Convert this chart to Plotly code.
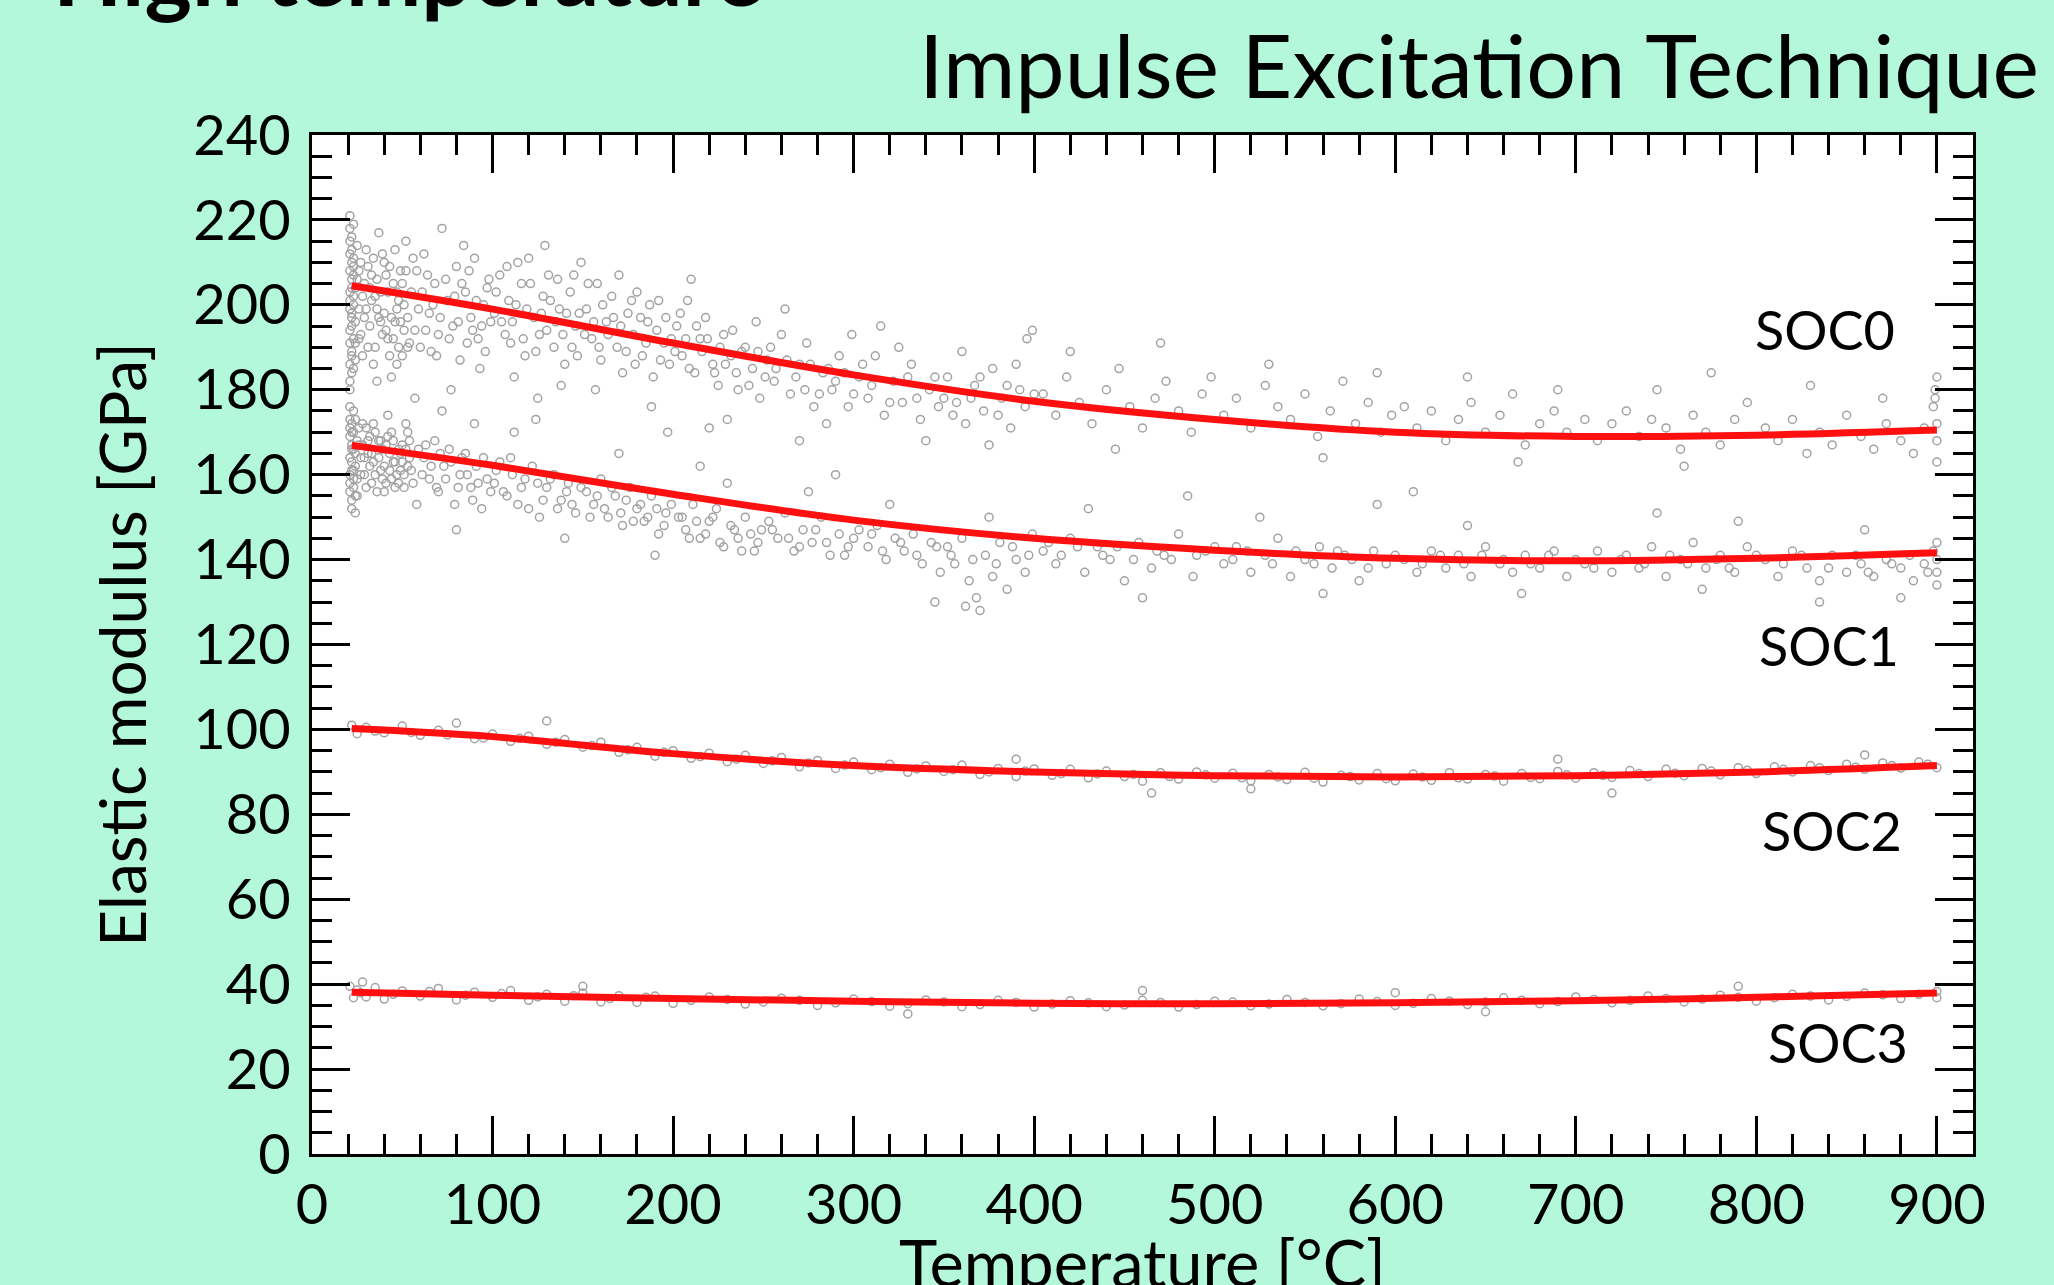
import plotly.graph_objects as go

soc0_points = [
    (21, 221), (22, 216), (21, 212), (23, 209), (22, 206), (21, 203), (23, 200), (22, 197), (21, 194), (24, 191),
    (22, 188), (23, 185), (21, 182), (25, 214), (26, 199), (24, 196),
    (30, 213), (33, 207), (35, 202), (38, 196), (40, 210), (42, 192), (45, 205), (47, 199), (50, 188), (52, 215),
    (55, 203), (57, 194), (58, 208), (34, 186), (44, 183), (53, 197), (37, 217), (48, 201), (60, 190),
    (62, 212), (65, 198), (68, 205), (70, 193), (72, 218), (75, 201), (78, 195), (80, 209), (82, 187), (85, 203),
    (88, 197), (90, 211), (92, 192), (95, 200), (98, 206), (66, 189), (84, 214), (93, 185), (77, 180), (99, 196),
    (102, 203), (105, 196), (108, 209), (110, 191), (113, 200), (116, 205), (118, 188), (120, 211), (123, 197),
    (126, 193), (128, 202), (131, 207), (134, 190), (137, 199), (140, 186), (143, 203), (146, 195), (149, 210),
    (112, 183), (138, 181), (125, 178), (129, 214), (147, 188),
    (152, 199), (155, 192), (158, 205), (160, 187), (163, 196), (166, 202), (169, 190), (172, 184), (175, 198),
    (178, 193), (180, 203), (183, 188), (186, 196), (189, 183), (192, 201), (195, 191), (198, 186), (170, 207),
    (188, 176), (157, 180), (197, 170),
    (202, 195), (205, 188), (208, 201), (212, 184), (215, 192), (218, 197), (222, 186), (225, 181), (228, 193),
    (232, 188), (236, 180), (240, 190), (244, 185), (248, 178), (210, 206), (230, 173), (246, 196), (220, 171),
    (252, 187), (256, 182), (260, 193), (265, 179), (270, 186), (274, 191), (278, 176), (283, 184), (288, 180),
    (292, 188), (297, 176), (262, 199), (285, 172), (299, 193), (270, 168),
    (303, 183), (308, 178), (312, 188), (317, 174), (322, 182), (327, 177), (332, 186), (337, 173), (342, 180),
    (347, 176), (315, 195), (340, 168), (325, 190),
    (352, 183), (357, 177), (362, 172), (367, 181), (372, 175), (377, 185), (382, 178), (387, 171), (392, 180),
    (396, 192), (399, 194), (390, 186), (375, 167), (360, 189),
    (405, 179), (412, 174), (418, 183), (425, 177), (432, 172), (440, 180), (447, 185), (453, 176), (460, 171),
    (467, 178), (473, 182), (480, 175), (487, 170), (493, 179), (420, 189), (445, 166), (470, 191), (498, 183),
    (505, 174), (512, 178), (520, 171), (528, 181), (535, 176), (542, 173), (550, 179), (557, 169), (564, 175),
    (571, 182), (578, 172), (585, 177), (592, 170), (598, 174), (530, 186), (560, 164), (590, 184),
    (605, 176), (612, 171), (620, 175), (628, 168), (635, 173), (642, 177), (650, 170), (658, 174), (665, 179),
    (672, 167), (680, 172), (688, 175), (695, 170), (640, 183), (668, 163), (690, 180),
    (705, 173), (712, 168), (720, 172), (728, 175), (735, 169), (742, 173), (750, 171), (758, 166), (765, 174),
    (772, 170), (780, 167), (788, 173), (795, 177), (745, 180), (775, 184), (760, 162),
    (805, 171), (812, 168), (820, 173), (828, 165), (835, 170), (842, 167), (850, 174), (858, 169), (865, 166),
    (872, 172), (880, 168), (887, 165), (893, 171), (898, 176), (899, 180), (900, 168), (900, 163), (900, 172),
    (900, 183), (899, 178), (830, 181), (870, 178),
    # denser part of the cloud below 400 degC
    (21, 218), (22, 210), (23, 207), (21, 201), (22, 198), (23, 192), (22, 189), (21, 186), (24, 204), (23, 211),
    (26, 208), (27, 193), (28, 202), (29, 197), (31, 190), (32, 204), (36, 199), (39, 193), (41, 207), (43, 188),
    (46, 196), (49, 208), (51, 200), (54, 191), (56, 211), (59, 199), (61, 203), (63, 194), (64, 207), (67, 200),
    (69, 188), (71, 197), (74, 206), (76, 192), (79, 202), (81, 196), (83, 205), (86, 191), (87, 208), (89, 194),
    (91, 201), (94, 195), (96, 189), (97, 204), (101, 198), (104, 207), (107, 193), (109, 201), (111, 196),
    (114, 210), (117, 192), (119, 199), (121, 205), (124, 189), (127, 198), (130, 194), (132, 201), (135, 196),
    (136, 206), (139, 193), (141, 198), (144, 190), (145, 207), (148, 198), (151, 193), (153, 205), (156, 196),
    (159, 190), (161, 200), (164, 193), (167, 197), (171, 195), (174, 189), (177, 201), (179, 186), (182, 197),
    (185, 191), (187, 200), (191, 194), (193, 187), (196, 197), (199, 192), (201, 189), (204, 198), (207, 192),
    (209, 185), (213, 195), (216, 189), (219, 192), (223, 184), (226, 190), (229, 186), (233, 194), (235, 184),
    (238, 189), (242, 181), (247, 189), (251, 183), (254, 190), (257, 185), (263, 187), (268, 183), (273, 180),
    (276, 186), (281, 179), (286, 185), (290, 182), (295, 184), (300, 179), (305, 186), (310, 181), (320, 177),
    (330, 183), (335, 178), (345, 183), (350, 178), (355, 174), (365, 178), (370, 183), (380, 174), (385, 181),
    (395, 176), (400, 179),
    # solid column right at the start of the run
    (21, 215), (22, 213), (21, 208), (22, 204), (21, 199), (22, 195), (21, 191), (22, 184), (23, 219), (23, 202),
    (24, 187), (25, 206), (26, 192), (27, 210), (28, 188), (29, 205), (30, 199), (31, 209), (32, 195), (33, 201),
    (34, 211), (35, 190), (36, 206), (37, 197), (38, 203), (39, 212), (40, 198), (41, 194), (42, 203), (43, 209),
    (44, 197), (45, 192), (46, 213), (47, 203), (48, 190), (49, 196), (50, 205), (51, 194), (52, 208), (53, 190),
]

soc1_points = [
    (21, 176), (22, 172), (21, 169), (23, 166), (22, 163), (21, 160), (23, 157), (22, 154), (24, 151), (21, 180),
    (25, 168), (24, 162),
    (30, 171), (33, 165), (35, 160), (38, 168), (40, 156), (42, 174), (45, 163), (48, 158), (50, 167), (53, 170),
    (55, 161), (58, 153), (36, 182), (47, 186), (57, 178),
    (62, 164), (65, 159), (68, 168), (70, 156), (73, 162), (76, 166), (79, 153), (82, 160), (85, 165), (88, 157),
    (91, 162), (94, 152), (97, 159), (72, 175), (90, 172), (80, 147),
    (102, 161), (106, 156), (110, 164), (114, 153), (118, 159), (122, 162), (126, 150), (130, 157), (134, 160),
    (138, 154), (142, 158), (146, 151), (112, 170), (140, 145), (124, 173),
    (152, 156), (156, 153), (160, 159), (164, 150), (168, 155), (172, 148), (176, 157), (180, 152), (184, 149),
    (188, 155), (192, 146), (196, 151), (170, 165), (190, 141),
    (203, 150), (207, 147), (211, 153), (215, 145), (220, 149), (224, 152), (228, 143), (232, 148), (236, 145),
    (240, 150), (245, 142), (249, 147), (230, 158), (215, 162),
    (253, 149), (258, 145), (262, 151), (267, 142), (272, 147), (277, 144), (282, 150), (287, 141), (292, 146),
    (297, 143), (275, 156), (290, 160),
    (303, 147), (308, 143), (313, 148), (318, 140), (323, 145), (328, 142), (333, 146), (338, 139), (343, 144),
    (348, 137), (320, 153), (345, 130),
    (352, 143), (356, 139), (360, 145), (364, 135), (368, 131), (370, 128), (373, 141), (377, 136), (381, 144),
    (385, 133), (390, 140), (395, 137), (399, 146), (375, 150), (362, 129),
    (405, 142), (412, 139), (420, 145), (428, 137), (435, 143), (442, 140), (450, 135), (458, 144), (465, 138),
    (472, 141), (480, 146), (488, 136), (495, 142), (430, 152), (460, 131), (485, 155),
    (505, 139), (512, 143), (520, 137), (528, 141), (535, 145), (542, 136), (550, 140), (558, 143), (565, 138),
    (572, 141), (580, 135), (588, 142), (595, 139), (525, 150), (560, 132), (590, 153),
    (605, 140), (612, 137), (620, 142), (628, 138), (635, 141), (642, 136), (650, 143), (658, 139), (665, 137),
    (672, 141), (680, 138), (688, 142), (695, 136), (640, 148), (670, 132), (610, 156),
    (705, 139), (712, 142), (720, 137), (728, 141), (735, 138), (742, 143), (750, 136), (758, 140), (765, 144),
    (772, 138), (780, 141), (788, 137), (795, 143), (745, 151), (770, 133), (790, 149),
    (805, 140), (812, 136), (820, 142), (828, 138), (835, 135), (842, 141), (850, 137), (858, 139), (865, 136),
    (872, 140), (880, 138), (887, 135), (893, 139), (898, 142), (900, 134), (900, 137), (900, 140), (900, 144),
    (860, 147), (835, 130), (880, 131),
    # denser band close to the fit
    (21, 173), (22, 166), (23, 161), (21, 158), (22, 170), (24, 155), (23, 175), (25, 159), (26, 171), (27, 164),
    (28, 167), (29, 160), (31, 168), (32, 162), (34, 172), (37, 164), (39, 159), (41, 167), (43, 161), (44, 170),
    (46, 157), (49, 165), (51, 160), (52, 172), (54, 164), (56, 158), (59, 166), (61, 160), (63, 167), (66, 162),
    (69, 157), (71, 165), (74, 159), (77, 163), (81, 157), (83, 164), (86, 160), (89, 154), (92, 158), (95, 164),
    (99, 156), (101, 158), (104, 163), (108, 155), (111, 160), (116, 157), (120, 152), (125, 158), (128, 154),
    (132, 159), (136, 152), (141, 156), (144, 153), (149, 157), (154, 150), (158, 155), (162, 152), (166, 157),
    (171, 151), (174, 154), (178, 149), (182, 153), (186, 150), (191, 152), (195, 148), (199, 153), (205, 150),
    (209, 145), (213, 149), (218, 146), (222, 150), (226, 144), (234, 147), (238, 142), (243, 146), (247, 144),
    (255, 147), (264, 145), (270, 143), (279, 147), (285, 144), (295, 141), (300, 145), (310, 146), (316, 142),
    (326, 144), (335, 141), (346, 143), (354, 141), (366, 140), (379, 139), (388, 143), (397, 141), (408, 144),
    (415, 141), (424, 143), (438, 141), (446, 143), (455, 140), (468, 142), (476, 140), (490, 141), (500, 143),
    (510, 140), (518, 142), (532, 139), (545, 142), (555, 139), (568, 142), (576, 140), (585, 138), (600, 141),
    (615, 139), (625, 141), (638, 139), (648, 141), (660, 140), (675, 139), (685, 141), (700, 140), (710, 138),
    (725, 140), (738, 139), (752, 141), (762, 139), (778, 140), (785, 138), (800, 141), (815, 139), (825, 141),
    (840, 138), (855, 141), (862, 137), (875, 139), (885, 141), (895, 137),
    # solid column right at the start of the run
    (21, 171), (22, 167), (21, 164), (22, 161), (21, 156), (22, 152), (23, 170), (23, 159), (24, 173), (24, 165),
    (25, 155), (26, 167), (27, 160), (28, 172), (29, 164), (30, 157), (31, 165), (32, 169), (33, 158), (34, 163),
    (35, 170), (36, 156), (37, 168), (38, 161), (39, 166), (40, 162), (41, 158), (42, 169), (43, 165), (44, 159),
    (45, 168), (46, 163), (47, 160), (48, 166), (49, 161), (50, 163), (51, 157), (52, 166), (53, 162), (54, 168),
]

soc2_points = [
    (22, 101), (25, 99), (30, 100.5), (40, 99.2), (50, 100.8), (60, 98.6), (70, 99.8), (80, 101.5), (90, 97.8),
    (100, 98.9), (110, 97.2), (120, 98.4), (130, 96.5), (140, 97.6), (150, 95.8), (160, 97.0), (170, 94.6),
    (180, 95.8), (190, 93.7), (200, 95.0), (210, 93.2), (220, 94.4), (230, 92.4), (240, 93.9), (250, 92.0),
    (260, 93.4), (270, 91.2), (280, 92.7), (290, 90.8), (300, 92.3), (310, 90.5), (320, 91.8), (330, 89.9),
    (340, 91.4), (350, 90.1), (360, 91.6), (370, 89.4), (380, 90.8), (390, 88.9), (400, 90.7), (410, 89.2),
    (420, 90.6), (430, 88.6), (440, 90.2), (450, 88.9), (460, 87.8), (470, 89.8), (480, 88.3), (490, 90.0),
    (500, 88.5), (510, 89.7), (520, 87.9), (530, 89.4), (540, 88.2), (550, 89.9), (560, 87.6), (570, 89.2),
    (580, 88.1), (590, 89.6), (600, 87.9), (610, 89.5), (620, 88.0), (630, 89.8), (640, 88.3), (650, 89.4),
    (660, 87.8), (670, 89.6), (680, 88.4), (690, 90.1), (700, 88.5), (710, 89.8), (720, 88.7), (730, 90.3),
    (740, 88.9), (750, 90.6), (760, 89.1), (770, 90.8), (780, 89.3), (790, 91.0), (800, 89.6), (810, 91.2),
    (820, 90.0), (830, 91.5), (840, 90.3), (850, 91.8), (860, 90.6), (870, 92.1), (880, 90.9), (890, 92.3),
    (900, 91.0), (130, 102), (390, 93), (465, 85), (520, 86), (690, 93), (720, 85), (860, 94),
    (35, 99.6), (55, 99.3), (75, 98.7), (95, 98.0), (115, 97.9), (135, 97.0), (155, 96.2), (175, 95.2),
    (195, 94.6), (215, 93.6), (235, 93.0), (255, 92.6), (275, 92.1), (295, 91.6), (315, 91.0), (335, 90.7),
    (355, 90.5), (375, 90.0), (395, 90.2), (415, 89.6), (435, 89.5), (455, 89.4), (475, 88.9), (495, 89.3),
    (515, 88.6), (535, 88.8), (555, 88.5), (575, 88.9), (595, 88.4), (615, 88.8), (635, 88.6), (655, 89.0),
    (675, 88.7), (695, 89.3), (715, 89.2), (735, 89.6), (755, 89.7), (775, 90.2), (795, 90.4), (815, 90.6),
    (835, 91.0), (855, 91.1), (875, 91.5), (895, 91.8),
]

soc3_points = [
    (21, 39.5), (23, 36.8), (25, 38.6), (30, 37.0), (35, 39.2), (40, 36.5), (50, 38.4), (60, 37.2), (70, 39.0),
    (80, 36.3), (90, 38.1), (100, 36.9), (110, 38.5), (120, 36.2), (130, 37.6), (140, 36.0), (150, 37.9),
    (160, 35.8), (170, 37.3), (180, 35.7), (190, 37.2), (200, 35.5), (220, 37.0), (240, 35.3), (260, 36.7),
    (280, 35.0), (300, 36.5), (320, 34.8), (340, 36.3), (360, 34.7), (380, 36.2), (400, 34.6), (420, 36.1),
    (440, 34.7), (460, 36.2), (480, 34.6), (500, 36.0), (520, 34.9), (540, 36.4), (560, 34.9), (580, 36.5),
    (600, 35.0), (620, 36.6), (640, 35.2), (660, 36.8), (680, 35.4), (700, 37.0), (720, 35.6), (740, 37.2),
    (760, 35.8), (780, 37.4), (800, 36.0), (820, 37.6), (840, 36.3), (860, 37.9), (880, 36.6), (900, 38.3),
    (900, 36.8), (28, 40.5), (150, 39.5), (460, 38.5), (600, 38), (790, 39.5), (330, 33), (650, 33.5),
    (27, 38.0), (45, 37.6), (65, 38.3), (85, 37.4), (105, 37.8), (125, 37.0), (145, 37.3), (165, 36.6),
    (185, 36.9), (210, 36.2), (230, 36.4), (250, 35.8), (270, 36.2), (290, 35.6), (310, 35.9), (330, 35.4),
    (350, 35.8), (370, 35.2), (390, 35.7), (410, 35.3), (430, 35.6), (450, 35.1), (470, 35.7), (490, 35.2),
    (510, 35.8), (530, 35.3), (550, 35.7), (570, 35.4), (590, 35.9), (610, 35.5), (630, 36.0), (650, 35.8),
    (670, 36.2), (690, 35.9), (710, 36.4), (730, 36.2), (750, 36.6), (770, 36.5), (790, 36.9), (810, 36.8),
    (830, 37.2), (850, 37.1), (870, 37.5), (890, 37.6),
]

# fitted curves
fit_temp = [22, 100, 200, 300, 400, 500, 600, 700, 800, 900]
fit_soc0 = [204.5, 199, 191, 183.5, 177.3, 173, 170, 169, 169.3, 170.5]
fit_soc1 = [166.9, 162.2, 155.4, 149.3, 145.0, 142.2, 140.3, 139.7, 140.3, 141.6]
fit_soc2 = [100.2, 98.3, 94.3, 91.5, 90.0, 89.1, 88.8, 89.1, 90.0, 91.5]
fit_soc3 = [38.1, 37.4, 36.6, 36.0, 35.5, 35.4, 35.6, 36.1, 36.9, 37.9]

# series labels
labels = ["SOC0", "SOC1", "SOC2", "SOC3"]
label_x = [878, 880, 882, 885]
label_y = [194.3, 119.7, 76.2, 26.2]

FONT = "Lato"
BG = "#b4f8dc"

fig = go.Figure()

# gray open circles for the raw data
for pts in [soc0_points, soc1_points, soc2_points, soc3_points]:
    fig.add_trace(go.Scatter(
        x=[p[0] for p in pts], y=[p[1] for p in pts], mode="markers",
        marker=dict(symbol="circle-open", size=8, color="#a3a3a3", line=dict(width=1.5)),
        showlegend=False, hoverinfo="skip"))

# red fit lines
for fit in [fit_soc0, fit_soc1, fit_soc2, fit_soc3]:
    fig.add_trace(go.Scatter(
        x=fit_temp, y=fit, mode="lines", line=dict(color="#ff1010", width=7, shape="spline"),
        showlegend=False))

for name, lx, ly in zip(labels, label_x, label_y):
    fig.add_annotation(x=lx, y=ly, xref="x", yref="y", text=name, showarrow=False,
                       xanchor="right", yanchor="middle",
                       font=dict(family=FONT, size=54, color="black"))

# slide heading (cut off at the top) and chart title
fig.add_annotation(x=-0.157, y=1.106, xref="paper", yref="paper", text="<b>High temperature</b>",
                   showarrow=False, xanchor="left", yanchor="bottom",
                   font=dict(family=FONT, size=90, color="black"))
fig.add_annotation(x=1.041, y=1.016, xref="paper", yref="paper", text="Impulse Excitation Technique",
                   showarrow=False, xanchor="right", yanchor="bottom",
                   font=dict(family=FONT, size=88, color="black"))

# x axis title sits partly below the page edge, so it is an annotation
fig.add_annotation(x=0.5, y=-0.066, xref="paper", yref="paper", text="Temperature [°C]",
                   showarrow=False, xanchor="center", yanchor="top",
                   font=dict(family=FONT, size=65, color="black"))

axis_common = dict(
    showline=True, linecolor="black", linewidth=3, mirror="allticks",
    ticks="inside", ticklen=38, tickwidth=3, tickcolor="black",
    showgrid=False, zeroline=False,
    tickfont=dict(family=FONT, size=56, color="black"),
)

fig.update_xaxes(range=[0, 920], tick0=0, dtick=100,
                 minor=dict(dtick=20, ticks="inside", ticklen=20, tickwidth=2.5, tickcolor="black"),
                 ticklabelstandoff=0,
                 **axis_common)
fig.update_yaxes(range=[0, 240], tick0=0, dtick=20,
                 minor=dict(dtick=5, ticks="inside", ticklen=20, tickwidth=2.5, tickcolor="black"),
                 ticklabelstandoff=7,
                 title=dict(text="Elastic modulus [GPa]", standoff=26, font=dict(family=FONT, size=64, color="black")),
                 **axis_common)

fig.update_layout(
    width=2054, height=1285,
    margin=dict(l=312, r=81, t=135, b=131, autoexpand=False),
    paper_bgcolor=BG, plot_bgcolor="white",
    showlegend=False,
)

fig.write_html("out.html", config={"displayModeBar": False},
               post_script="document.body.style.margin='0';")
